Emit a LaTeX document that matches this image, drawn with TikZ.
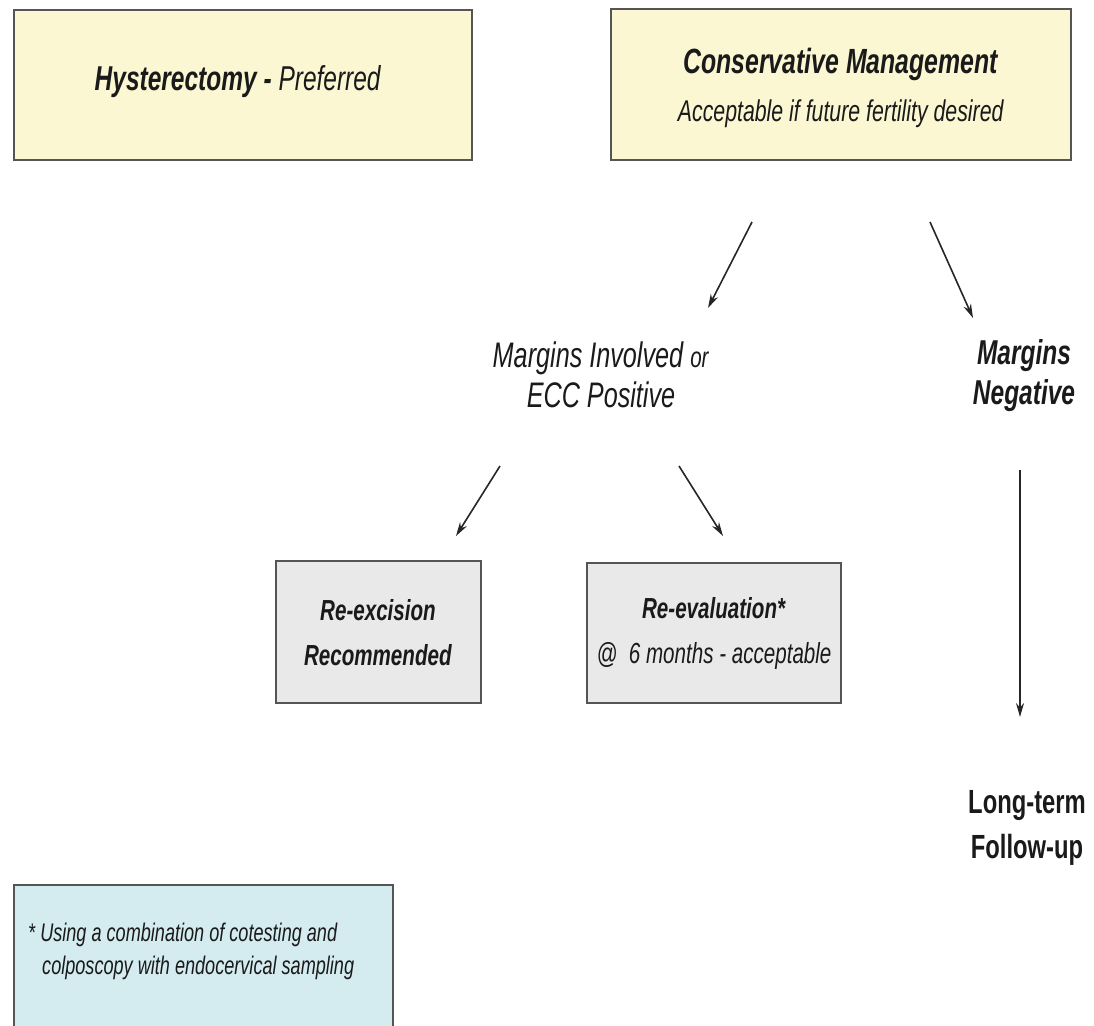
\documentclass[tikz,border=0pt]{standalone}
\usepackage{fontspec}
\setmainfont{Liberation Sans}[FakeStretch=0.71]
\usetikzlibrary{arrows.meta}
\definecolor{boxyellow}{HTML}{FAF7D2}
\definecolor{boxgray}{HTML}{E9E9E9}
\definecolor{boxblue}{HTML}{D4ECF0}
\definecolor{edge}{HTML}{555555}
\definecolor{ink}{HTML}{1A1A1A}
\newcommand{\fs}[2]{\fontsize{#1}{#2}\selectfont}
\begin{document}
\begin{tikzpicture}[x=1pt,y=-1pt,
  box/.style={draw=edge,line width=1.6pt,inner sep=0pt},
  lbl/.style={align=center,inner sep=0pt,text=ink},
  flow/.style={-{Stealth[length=14pt,width=8pt]},line width=1.6pt,draw=black!85}]
\useasboundingbox (0,0) rectangle (1094,1025);
% boxes
\draw[box,fill=boxyellow] (14,10) rectangle (472,160);
\draw[box,fill=boxyellow] (611,9) rectangle (1071,160);
\draw[box,fill=boxgray] (276,561) rectangle (481,703);
\draw[box,fill=boxgray] (587,563) rectangle (841,703);
\draw[box,fill=boxblue] (14,1030) -- (14,885) -- (393,885) -- (393,1030);
% texts
\node[lbl,font=\fs{34.5}{40}] (hyst) at (238,82) {\textbf{\textit{Hysterectomy -}} \textit{Preferred}};
\node[lbl,font=\fs{35}{48}] (cons) at (841,88)
  {\textbf{\textit{Conservative Management}}\\
   {\fs{30}{48}\textit{Acceptable if future fertility desired}}};
\node[lbl,font=\fs{35.5}{40}] (inv) at (601,375)
  {\textit{Margins Involved {\fs{29}{40}or}}\\ \textit{ECC Positive}};
\node[lbl,font=\fs{34.5}{40}] (neg) at (1024,376) {\textbf{\textit{Margins}}\\ \textbf{\textit{Negative}}};
\node[lbl,font=\fs{29}{45}] (rex) at (378,633)
  {\textbf{\textit{Re-excision}}\\ \textbf{\textit{Recommended}}};
\node[lbl,font=\fs{29}{45}] (reev) at (714,633)
  {\textbf{\textit{Re-evaluation*}}\\ \textit{@\ \ 6 months - acceptable}};
\node[lbl,font=\fs{33.5}{45}] (ltf) at (1027,828)
  {\textbf{Long-term}\\ \textbf{Follow-up}};
\node[lbl,align=left,anchor=west,font=\fs{25.5}{33}] (note) at (28,951.5)
  {\textit{* Using a combination of cotesting and}\\
   \hspace{0.55em}\textit{colposcopy with endocervical sampling}};
% arrow endpoints
\coordinate (c1s) at (752,222); \coordinate (c1e) at (708,308);
\coordinate (c2s) at (930,222); \coordinate (c2e) at (973,318);
\coordinate (m1s) at (500,466); \coordinate (m1e) at (456,536);
\coordinate (m2s) at (679,466); \coordinate (m2e) at (723,536);
\coordinate (n1s) at (1020,470); \coordinate (n1e) at (1020,717);
\draw[flow] (c1s) -- (c1e);
\draw[flow] (c2s) -- (c2e);
\draw[flow] (m1s) -- (m1e);
\draw[flow] (m2s) -- (m2e);
\draw[flow] (n1s) -- (n1e);
\end{tikzpicture}
\end{document}
